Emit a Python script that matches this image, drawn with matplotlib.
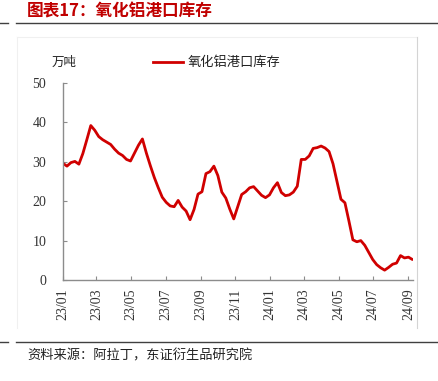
import pandas as pd
import matplotlib
matplotlib.use("Agg")
import matplotlib.pyplot as plt
from matplotlib.lines import Line2D

# ---------- data (weekly, 万吨) ----------
start_date = "2023-01-01"
stock = [29.6, 28.9, 29.8, 30.1, 29.4, 32.1, 35.6, 39.2, 38.0, 36.4,
         35.6, 35.0, 34.4, 33.2, 32.2, 31.6, 30.6, 30.2, 32.2, 34.2,
         35.8, 32.2, 29.0, 26.0, 23.4, 21.0, 19.7, 18.8, 18.6, 20.2,
         18.5, 17.5, 15.3, 17.9, 21.8, 22.4, 27.0, 27.5, 28.9, 26.5,
         22.3, 20.8, 18.0, 15.5, 18.6, 21.7, 22.4, 23.4, 23.7, 22.6,
         21.5, 20.9, 21.6, 23.4, 24.7, 22.2, 21.4, 21.6, 22.3, 23.8,
         30.6, 30.6, 31.5, 33.4, 33.6, 34.0, 33.5, 32.6, 29.5, 25.0,
         20.5, 19.6, 15.0, 10.2, 9.7, 10.0, 8.8, 7.0, 5.2, 3.9,
         3.1, 2.5, 3.2, 4.0, 4.3, 6.2, 5.6, 5.8, 5.2]
tick_dates = ["2023-01-01", "2023-03-01", "2023-05-01", "2023-07-01", "2023-09-01",
              "2023-11-01", "2024-01-01", "2024-03-01", "2024-05-01", "2024-07-01",
              "2024-09-01"]
tick_labels = ["23/01", "23/03", "23/05", "23/07", "23/09", "23/11",
               "24/01", "24/03", "24/05", "24/07", "24/09"]
yticks = [0, 10, 20, 30, 40, 50]

title = "图表17：氧化铝港口库存"
series_name = "氧化铝港口库存"
unit = "万吨"
source = "资料来源：阿拉丁，东证衍生品研究院"

dates = pd.date_range(start_date, periods=len(stock), freq="7D")

CJK = ["Noto Sans CJK SC", "DejaVu Sans"]
SERIF = ["Liberation Serif", "DejaVu Serif"]
RED = "#d00000"
GRAY = "#8c8c8c"

W, H = 438, 381
fig = plt.figure(figsize=(W / 100, H / 100), dpi=100)

def fx(px): return px / W
def fy(py): return 1 - py / H

def hline(x0, x1, y, color, lw=1.0):
    fig.lines.append(Line2D([fx(x0), fx(x1)], [fy(y), fy(y)], transform=fig.transFigure,
                            color=color, linewidth=lw))

def vline(x, y0, y1, color, lw=1.0):
    fig.lines.append(Line2D([fx(x), fx(x)], [fy(y0), fy(y1)], transform=fig.transFigure,
                            color=color, linewidth=lw))

# faint chart frame (right edge a bit stronger, as in the source image)
hline(17, 417, 37, "#f0f0f0", 0.8)
vline(17, 37, 328, "#f0f0f0", 0.8)
vline(417, 37, 328, "#d4d4d4", 0.8)

ax = fig.add_axes([fx(63), fy(280), fx(413) - fx(63), fy(83) - fy(280)])
ax.plot(dates, stock, color=RED, linewidth=2.0, solid_capstyle="round")

ax.set_ylim(0, 50)
ax.set_yticks(yticks)
ax.set_xlim(pd.Timestamp(start_date), dates[-1] + pd.Timedelta(days=1))
ax.set_xticks(pd.to_datetime(tick_dates))
ax.set_xticklabels(tick_labels, rotation=90, family=SERIF, fontsize=10)
for lab in ax.get_yticklabels():
    lab.set_family(SERIF)
    lab.set_fontsize(10)

for s in ("top", "right"):
    ax.spines[s].set_visible(False)
for s in ("left", "bottom"):
    ax.spines[s].set_color(GRAY)
    ax.spines[s].set_linewidth(1.0)
ax.tick_params(axis="both", direction="in", length=3, color=GRAY, colors="#333333")
ax.tick_params(axis="y", pad=12)
ax.tick_params(axis="x", pad=6)

# unit and legend
fig.text(fx(52), fy(62), unit, family=CJK, fontsize=9, va="center", ha="left", color="#222222")
hline(153, 183, 62, RED, 2.0)
fig.text(fx(188), fy(62), series_name, family=CJK, fontsize=9.5, va="center", ha="left",
         color="#222222")

# title and separators
fig.text(fx(27), fy(11), title, family=CJK, fontsize=12, fontweight="bold",
         color="#c00000", va="center", ha="left")
for yy in (23, 342):
    hline(0, 8, yy, "#404040")
    hline(16, W, yy, "#404040")

fig.text(fx(27), fy(356), source, family=CJK, fontsize=9.5, va="center", ha="left",
         color="#222222")

fig.savefig("out.png", dpi=100)
